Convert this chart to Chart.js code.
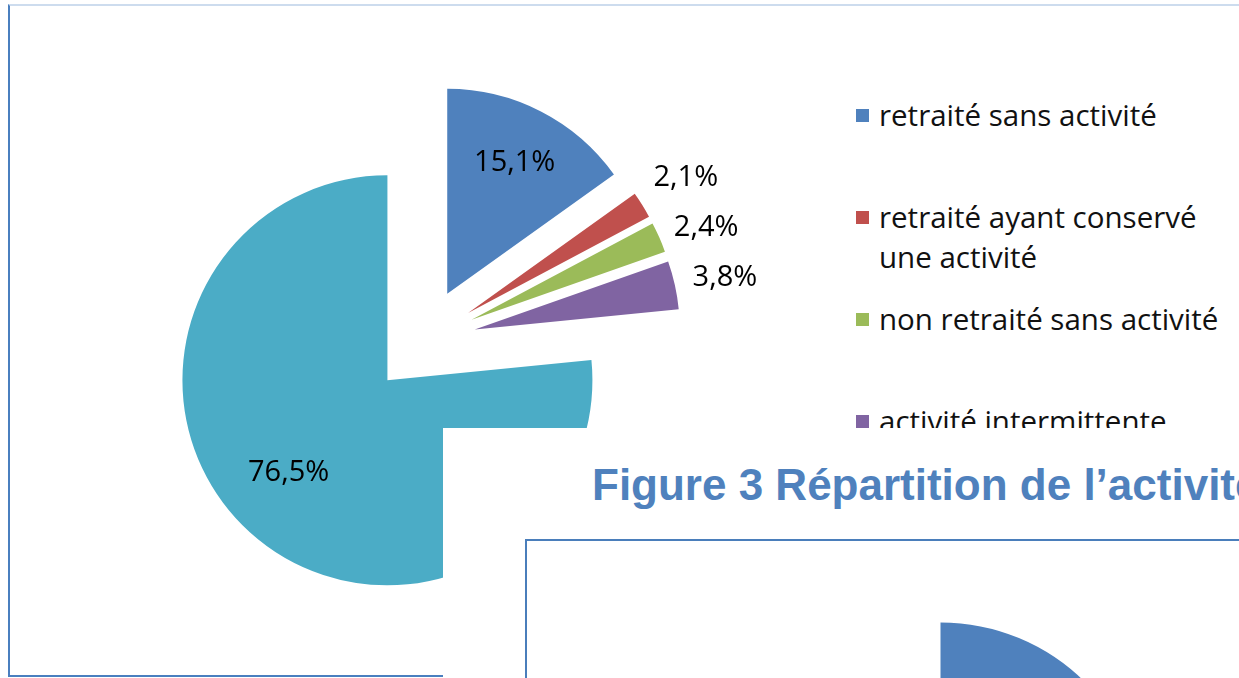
<!DOCTYPE html>
<html>
<head>
<meta charset="utf-8">
<script src="https://cdn.jsdelivr.net/npm/chart.js@4.4.1/dist/chart.umd.min.js"></script>
<style>
html, body { margin:0; padding:0; width:1239px; height:678px; overflow:hidden; background:#fff; font-family:"Open Sans", sans-serif; }
#cadre { position:absolute; left:8px; top:4px; width:1300px; height:669px; border-left:2px solid #4a7fbf; border-top:2px solid #cddcee; border-bottom:2px solid #4a7fbf; }
#zonePie { position:absolute; left:0; top:0; width:846px; height:682px; }
#legende { position:absolute; left:856px; top:95px; width:380px; }
.item { height:102px; display:flex; align-items:flex-start; font-size:29.5px; line-height:40px; color:#111; }
.item span.txt { max-width:356px; }
.carre { width:13px; height:13px; margin-top:14px; margin-right:10px; flex:none; }
#masque { position:absolute; left:443px; top:428px; width:796px; height:250px; background:#fff; overflow:hidden; }
#titre3 { position:absolute; left:149px; top:35px; white-space:nowrap; font-family:"Liberation Sans", Arial, sans-serif; font-weight:bold; font-size:44px; line-height:44px; color:#4f81bd; }
#cadre3 { position:absolute; left:82px; top:111px; width:800px; height:200px; border-left:2px solid #4a7ebb; border-top:2px solid #4a7ebb; }
/* quart de cercle : Chart.js recentre l'arc, la zone est décalée en conséquence */
#zonePie3 { position:absolute; left:350px; top:47px; width:500px; height:500px; }
</style>
</head>
<body>
<div id="cadre"></div>
<div id="zonePie"><canvas id="camembert"></canvas></div>
<div id="legende"></div>
<div id="masque">
  <div id="titre3">Figure 3 Répartition de l’activité</div>
  <div id="cadre3"></div>
  <div id="zonePie3"><canvas id="camembert3"></canvas></div>
</div>
<script>
// données figure 2
const categories = ['retraité sans activité', 'retraité ayant conservé une activité', 'non retraité sans activité', 'activité intermittente', 'autres'];
const valeurs = [15.1, 2.1, 2.4, 3.8, 76.5];
const couleurs = ['#4f81bd', '#c0504d', '#9bbb59', '#8064a2', '#4bacc6'];

// figure 3 : seul le début de la première part est visible
const valeursFig3 = [1];
const couleursFig3 = ['#4f81bd'];

const ecart = 53; // parts éclatées

const eclatement = {
    id: 'eclatement',
    afterDatasetUpdate(chart) {
        chart.getDatasetMeta(0).data.forEach(arc => {
            const milieu = (arc.startAngle + arc.endAngle) / 2;
            arc.x += Math.cos(milieu) * ecart;
            arc.y += Math.sin(milieu) * ecart;
        });
    }
};

const etiquettes = {
    id: 'etiquettes',
    afterDatasetsDraw(chart) {
        const ctx = chart.ctx;
        const arcs = chart.getDatasetMeta(0).data;
        ctx.save();
        ctx.font = '29px "Open Sans"';
        ctx.fillStyle = '#000';
        ctx.textAlign = 'center';
        ctx.textBaseline = 'middle';
        let dernierY = -Infinity;
        arcs.forEach((arc, i) => {
            const v = valeurs[i];
            const milieu = (arc.startAngle + arc.endAngle) / 2;
            const texte = v.toFixed(1).replace('.', ',') + '%';
            if (v >= 10) {
                const d = arc.outerRadius * (v > 50 ? 0.66 : 0.72);
                ctx.fillText(texte, arc.x + Math.cos(milieu) * d - (v > 50 ? 8 : 0), arc.y + Math.sin(milieu) * d - (v > 50 ? 8 : 0));
            } else {
                const d = arc.outerRadius * 1.25;
                let y = arc.y + Math.sin(milieu) * d;
                y = Math.max(y, dernierY + 50);
                dernierY = y;
                ctx.fillText(texte, arc.x + Math.cos(milieu) * d, y);
            }
        });
        ctx.restore();
    }
};

new Chart(document.getElementById('camembert').getContext('2d'), {
    type: 'pie',
    data: {
        labels: categories,
        datasets: [{
            data: valeurs,
            backgroundColor: couleurs,
            borderWidth: 0,
            radius: 205
        }]
    },
    options: {
        responsive: true,
        maintainAspectRatio: false,
        animation: false,
        layout: { padding: 0 },
        plugins: {
            legend: { display: false },
            tooltip: { enabled: false }
        }
    },
    plugins: [eclatement, etiquettes]
});

new Chart(document.getElementById('camembert3').getContext('2d'), {
    type: 'pie',
    data: {
        labels: ['retraité sans activité'],
        datasets: [{
            data: valeursFig3,
            backgroundColor: couleursFig3,
            borderWidth: 0,
            radius: 205,
            circumference: 90
        }]
    },
    options: {
        responsive: true,
        maintainAspectRatio: false,
        animation: false,
        plugins: {
            legend: { display: false },
            tooltip: { enabled: false }
        }
    }
});

// légende
const legende = document.getElementById('legende');
for (let i = 0; i < categories.length; i++) {
    const div = document.createElement('div');
    div.className = 'item';
    const carre = document.createElement('span');
    carre.className = 'carre';
    carre.style.background = couleurs[i];
    const txt = document.createElement('span');
    txt.className = 'txt';
    txt.textContent = categories[i];
    div.appendChild(carre);
    div.appendChild(txt);
    legende.appendChild(div);
}
</script>
</body>
</html>
